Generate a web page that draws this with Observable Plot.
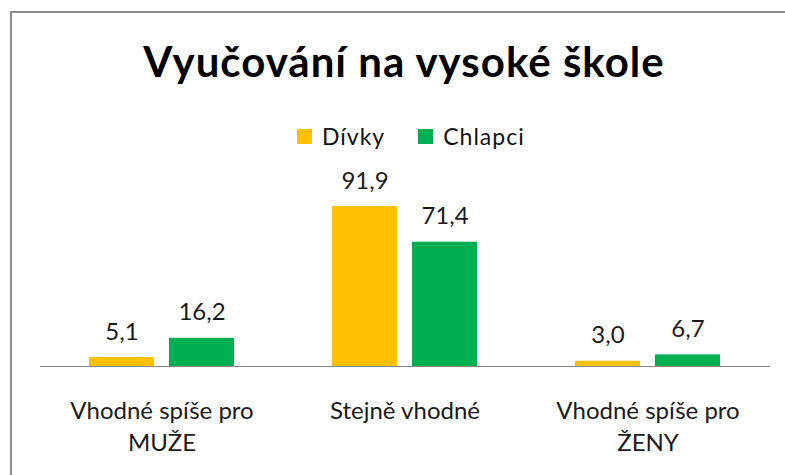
<!DOCTYPE html>
<html>
<head>
<meta charset="utf-8">
<script src="https://cdn.jsdelivr.net/npm/d3@7"></script>
<script src="https://cdn.jsdelivr.net/npm/@observablehq/plot@0.6"></script>
<style>
  body { margin: 0; background: #fff; }
  #wrap { position: relative; width: 785px; height: 475px; overflow: hidden; font-family: Lato, sans-serif; }
  #border { position: absolute; left: 10px; top: 11px; width: 800px; height: 500px; border-left: 2px solid #8c8c8c; border-top: 2px solid #8c8c8c; box-sizing: border-box; }
  #title { position: absolute; left: 0; width: 808px; top: 40px; text-align: center; font-size: 42px; line-height: 42px; letter-spacing: 1px; font-weight: bold; color: #000; }
  #legend { position: absolute; left: 297px; top: 122px; display: flex; align-items: center; font-size: 23px; letter-spacing: 1px; color: #111; }
  #legend .sw { width: 15px; height: 15px; display: inline-block; margin-right: 10px; }
  #legend .item { display: flex; align-items: center; margin-right: 33px; }
  #chart { position: absolute; left: 0; top: 0; }
</style>
</head>
<body>
<div id="wrap">
  <div id="chart"></div>
  <div id="border"></div>
  <div id="title">Vyučování na vysoké škole</div>
  <div id="legend"></div>
</div>
<script>
const categories = ["Vhodné spíše pro\nMUŽE", "Stejně vhodné", "Vhodné spíše pro\nŽENY"];
const seriesNames = ["Dívky", "Chlapci"];
const divky = [5.1, 91.9, 3.0];
const chlapci = [16.2, 71.4, 6.7];
const colors = ["#FFC000", "#00B050"];

const data = [];
categories.forEach((c, i) => {
  data.push({cat: c, series: seriesNames[0], value: divky[i]});
  data.push({cat: c, series: seriesNames[1], value: chlapci[i]});
});
const fmt = v => d3.format(".1f")(v).replace(".", ",");

// legend
const legend = document.getElementById("legend");
seriesNames.forEach((s, i) => {
  const item = document.createElement("div");
  item.className = "item";
  const sw = document.createElement("span");
  sw.className = "sw";
  sw.style.background = colors[i];
  item.appendChild(sw);
  item.appendChild(document.createTextNode(s));
  legend.appendChild(item);
});

const chart = Plot.plot({
  width: 785,
  height: 475,
  marginLeft: 39,
  marginRight: 15,
  marginTop: 191.9,
  marginBottom: 109,
  style: {fontFamily: "Lato, sans-serif", background: "transparent"},
  fx: {domain: categories, paddingInner: 0, paddingOuter: 0, label: null},
  x: {domain: seriesNames, paddingInner: 0.185, paddingOuter: 0.5945, axis: null},
  y: {domain: [0, 100], axis: null},
  color: {domain: seriesNames, range: colors},
  marks: [
    Plot.barY(data, {fx: "cat", x: "series", y: "value", fill: "series"}),
    Plot.text(data, {fx: "cat", x: "series", y: "value", text: d => fmt(d.value), dy: -18, lineAnchor: "bottom", fontSize: 24, fill: "#1a1a1a"}),
    Plot.frame({anchor: "bottom", stroke: "#868686", strokeWidth: 1}),
    Plot.axisFx({anchor: "bottom", tickSize: 0, tickPadding: 30, fontSize: 24, lineHeight: 1.33, fill: "#1a1a1a", label: null})
  ]
});
document.getElementById("chart").appendChild(chart);
</script>
</body>
</html>
